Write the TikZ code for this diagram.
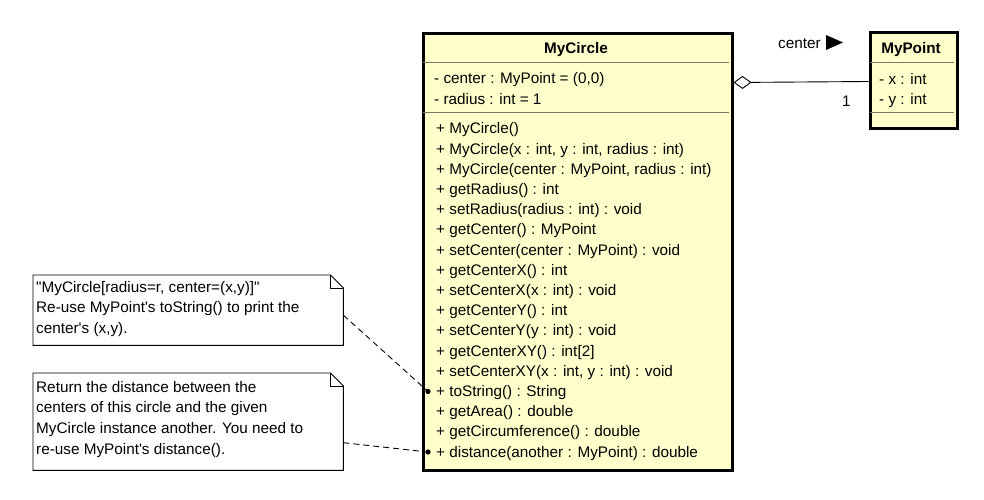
\documentclass[tikz,border=0pt]{standalone}
\usepackage{fontspec}
\setmainfont{Liberation Sans}
\usetikzlibrary{positioning,arrows.meta}

\definecolor{umlfill}{RGB}{255,255,204}
\definecolor{seprule}{RGB}{120,120,100}

\tikzset{
  classbox/.style={draw, line width=3pt, fill=umlfill, inner sep=0pt, anchor=north west},
  classname/.style={anchor=base, font=\fontsize{15.3}{18}\selectfont\bfseries, inner sep=0pt},
  rowtext/.style={anchor=base west, inner sep=0pt, font=\fontsize{15.3}{18}\selectfont},
  notebox/.style={fill=white, inner sep=0pt, anchor=north west},
  notetext/.style={anchor=north west, inner sep=0pt, align=left,
    font=\fontsize{15.3}{20.6}\selectfont},
  noteline/.style={dashed, dash pattern=on 6pt off 4pt, line width=0.9pt},
}

\begin{document}
\begin{tikzpicture}[x=1pt,y=-1pt]
  \useasboundingbox (0,0) rectangle (984,500);

  % MyCircle class
  \node[classbox, minimum width=309pt, minimum height=436pt] (circ) at (421.5,32.5) {};
  \draw[seprule] (423,62) -- (729,62);
  \draw[seprule] (423,112) -- (729,112);
  \node[classname] (circname) at (576,53.5) {MyCircle};

  % attributes
  \node[rowtext] (ca1) at (434,83.5) {- center : MyPoint = (0,0)};
  \node[rowtext] (ca2) at (434,104.5) {- radius : int = 1};

  % operations
  \foreach \m [count=\i] in {
    {+ MyCircle()},
    {+ MyCircle(x : int, y : int, radius : int)},
    {+ MyCircle(center : MyPoint, radius : int)},
    {+ getRadius() : int},
    {+ setRadius(radius : int) : void},
    {+ getCenter() : MyPoint},
    {+ setCenter(center : MyPoint) : void},
    {+ getCenterX() : int},
    {+ setCenterX(x : int) : void},
    {+ getCenterY() : int},
    {+ setCenterY(y : int) : void},
    {+ getCenterXY() : int[2]},
    {+ setCenterXY(x : int, y : int) : void},
    {+ toString() : String},
    {+ getArea() : double},
    {+ getCircumference() : double},
    {+ distance(another : MyPoint) : double}}
  \node[rowtext] (cm\i) at (436,113.8+20.19*\i) {\m};

  % MyPoint class
  \node[classbox, minimum width=87pt, minimum height=95pt] (pt) at (868.5,31.5) {};
  \draw[seprule] (870,62) -- (954,62);
  \draw[seprule] (870,112) -- (954,112);
  \node[classname] (ptname) at (911,53.5) {MyPoint};
  \node[rowtext] (pa1) at (879,84.5) {- x : int};
  \node[rowtext] (pa2) at (879,104.5) {- y : int};

  % aggregation
  \coordinate (aggfrom) at ([yshift=-50pt]circ.north east);
  \coordinate (aggto) at ([yshift=-50pt]pt.north west);
  \draw[{Diamond[open,length=18pt,width=13pt]}-, line width=0.9pt] (aggfrom) -- (aggto);
  \node[rowtext] (rolename) at (778,49) {center};
  \fill (826,35) -- (843,42.5) -- (826,50) -- cycle;
  \node[rowtext] (mult) at (842,106.5) {1};

  % notes
  \node[notebox, minimum width=310pt, minimum height=70pt] (note1) at (33,275) {};
  \draw[line width=0.9pt] (note1.north west) -- ([xshift=-13pt]note1.north east)
    -- ([yshift=-13pt]note1.north east) -- (note1.south east) -- (note1.south west) -- cycle;
  \draw[line width=0.9pt] ([xshift=-13pt]note1.north east) |- ([yshift=-13pt]note1.north east);
  \node[notetext] (note1text) at (36,281) {\textquotedbl MyCircle[radius=r, center=(x,y)]\textquotedbl\\
    Re-use MyPoint\textquotesingle s toString() to print the\\center\textquotesingle s (x,y).};

  \node[notebox, minimum width=310pt, minimum height=97pt] (note2) at (33,373) {};
  \draw[line width=0.9pt] (note2.north west) -- ([xshift=-13pt]note2.north east)
    -- ([yshift=-13pt]note2.north east) -- (note2.south east) -- (note2.south west) -- cycle;
  \draw[line width=0.9pt] ([xshift=-13pt]note2.north east) |- ([yshift=-13pt]note2.north east);
  \node[notetext] (note2text) at (36,381) {Return the distance between the\\
    centers of this circle and the given\\MyCircle instance another. You need to\\
    re-use MyPoint\textquotesingle s distance().};

  % note links
  \coordinate (dot1) at ([xshift=-8pt,yshift=5pt]cm14.base west);
  \coordinate (dot2) at ([xshift=-8pt,yshift=5pt]cm17.base west);
  \draw[noteline] ([yshift=-5pt]note1.east) -- (dot1);
  \draw[noteline] ([yshift=-21pt]note2.east) -- (dot2);
  \fill (dot1) circle (2.6pt);
  \fill (dot2) circle (2.6pt);

\end{tikzpicture}
\end{document}
